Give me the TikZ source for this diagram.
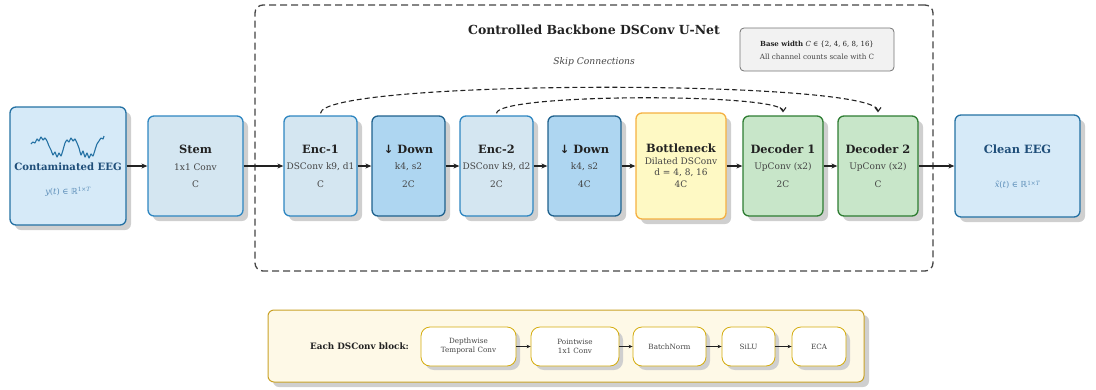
\documentclass[tikz,border=0pt]{standalone}
\usepackage{fontspec}
\setmainfont{DejaVu Serif}
\newfontfamily\symf{DejaVu Sans}
\usetikzlibrary{arrows.meta,shadows}
\definecolor{eegfill}{HTML}{D6EAF8}
\definecolor{eegdraw}{HTML}{2471A3}
\definecolor{eegtext}{HTML}{1F4E79}
\definecolor{eegmath}{HTML}{5B8DB8}
\definecolor{stemfill}{HTML}{D4E6F1}
\definecolor{stemdraw}{HTML}{2E86C1}
\definecolor{downfill}{HTML}{AED6F1}
\definecolor{downdraw}{HTML}{1F618D}
\definecolor{botfill}{HTML}{FEF9C4}
\definecolor{botdraw}{HTML}{F5B041}
\definecolor{decfill}{HTML}{C8E6C9}
\definecolor{decdraw}{HTML}{2E7D32}
\definecolor{legfill}{HTML}{FEF9E7}
\definecolor{legdraw}{HTML}{C9A227}
\definecolor{subdraw}{HTML}{D4AC0D}
\definecolor{txt}{HTML}{222222}
\definecolor{subtxt}{HTML}{444444}
\definecolor{shadowc}{HTML}{CFCFCF}
\begin{document}
\begin{tikzpicture}[x=1pt,y=-1pt,
  box/.style={draw, line width=1.3pt, rounded corners=6pt, inner sep=0pt,
    drop shadow={shadow xshift=5pt, shadow yshift=-5pt, fill=shadowc, opacity=1}},
  subbox/.style={draw=subdraw, fill=white, line width=0.8pt, rounded corners=9pt, inner sep=0pt,
    drop shadow={shadow xshift=4pt, shadow yshift=-4pt, fill=shadowc, opacity=1}},
  ttl/.style={font=\fontsize{11.4}{13}\selectfont\bfseries, text=txt, inner sep=0pt},
  sub/.style={font=\fontsize{9}{10}\selectfont, text=subtxt, inner sep=0pt},
  small/.style={font=\fontsize{7.2}{8}\selectfont, text=subtxt, inner sep=0pt},
  arr/.style={-{Stealth[length=6pt,width=5pt]}, line width=1.3pt, draw=txt},
  sarr/.style={-{Stealth[length=4pt,width=3.5pt]}, line width=0.8pt, draw=txt},
  skip/.style={-{Straight Barb[length=4pt,width=6pt]}, dash pattern=on 5pt off 3pt, line width=1.1pt, draw=txt}
]
\useasboundingbox (0,0) rectangle (1096,389);

% container
\node[draw=subtxt, dash pattern=on 7pt off 4pt, line width=1.3pt, rounded corners=8pt,
  minimum width=678pt, minimum height=266pt, inner sep=0pt] (cont) at (594,138) {};
\node[font=\fontsize{12.5}{14}\selectfont\bfseries, text=txt, inner sep=0pt] (title) at (594,30) {Controlled Backbone DSConv U-Net};
\node[font=\fontsize{9.2}{10}\selectfont\itshape, text=subtxt, inner sep=0pt] (skiplbl) at (594,62) {Skip Connections};

% base width box
\node[draw=black!55, fill=black!5, line width=0.8pt, rounded corners=4pt,
  minimum width=154pt, minimum height=43pt, inner sep=0pt] (base) at (817,49.5) {};
\node[font=\fontsize{7}{8}\selectfont, text=txt, inner sep=0pt] (base1) at (817,44) {\textbf{Base width} {\itshape C} ∈ \{2, 4, 6, 8, 16\}};
\node[small] (base2) at (817,57) {All channel counts scale with C};

% input
\node[box, draw=eegdraw, fill=eegfill, minimum width=116pt, minimum height=118pt] (inp) at (68,166) {};
\draw[eegdraw, line width=1.1pt, line join=round] plot[smooth, tension=0.3] coordinates {
 (31,144) (33,142) (35,143) (37,139) (39,141) (41,137) (43,140) (45,138) (47,141) (49,146) (51,150) (53,155) (55,152) (57,157) (59,153) (61,156) (63,150) (65,143) (67,140) (69,142) (71,138) (73,141) (75,139) (77,143) (79,148) (81,155) (83,151) (85,157) (87,153) (89,158) (91,154) (93,156) (95,150) (97,144) (99,141) (101,138) (103,139) (104,136)};
\node[font=\fontsize{10.1}{11}\selectfont\bfseries, text=eegtext, inner sep=0pt] (inpT) at (68,167) {Contaminated EEG};
\node[font=\fontsize{8.3}{9}\selectfont, text=eegmath, inner sep=0pt] (inpM) at (68,192) {{\itshape y}({\itshape t}) ∈ {\symf ℝ}\textsuperscript{1×{\itshape T}}};

% stem
\node[box, draw=stemdraw, fill=stemfill, minimum width=95pt, minimum height=100pt] (stem) at (195.5,166) {};
\node[ttl] (stemT) at (195.5,149) {Stem};
\node[sub] (stemS) at (195.5,167) {1x1 Conv};
\node[sub] (stemC) at (195.5,184) {C};

% enc1
\node[box, draw=stemdraw, fill=stemfill, minimum width=73pt, minimum height=100pt] (enc1) at (320.5,166) {};
\node[ttl] (enc1T) at (320.5,149) {Enc-1};
\node[sub] (enc1S) at (320.5,167) {DSConv k9, d1};
\node[sub] (enc1C) at (320.5,184) {C};

% down1
\node[box, draw=downdraw, fill=downfill, minimum width=73pt, minimum height=100pt] (down1) at (408.5,166) {};
\node[ttl] (down1T) at (408.5,149) {{\symf ↓} Down};
\node[sub] (down1S) at (408.5,167) {k4, s2};
\node[sub] (down1C) at (408.5,184) {2C};

% enc2
\node[box, draw=stemdraw, fill=stemfill, minimum width=73pt, minimum height=100pt] (enc2) at (496.5,166) {};
\node[ttl] (enc2T) at (496.5,149) {Enc-2};
\node[sub] (enc2S) at (496.5,167) {DSConv k9, d2};
\node[sub] (enc2C) at (496.5,184) {2C};

% down2
\node[box, draw=downdraw, fill=downfill, minimum width=73pt, minimum height=100pt] (down2) at (584.5,166) {};
\node[ttl] (down2T) at (584.5,149) {{\symf ↓} Down};
\node[sub] (down2S) at (584.5,167) {k4, s2};
\node[sub] (down2C) at (584.5,184) {4C};

% bottleneck
\node[box, draw=botdraw, fill=botfill, minimum width=90pt, minimum height=106pt] (bot) at (681,166) {};
\node[ttl] (botT) at (681,148) {Bottleneck};
\node[sub] (botS) at (681,161) {Dilated DSConv};
\node[sub] (botD) at (681,172.5) {d = 4, 8, 16};
\node[sub] (botC) at (681,184) {4C};

% decoders
\node[box, draw=decdraw, fill=decfill, minimum width=80pt, minimum height=100pt] (dec1) at (783,166) {};
\node[ttl] (dec1T) at (783,149) {Decoder 1};
\node[sub] (dec1S) at (783,167) {UpConv (x2)};
\node[sub] (dec1C) at (783,184) {2C};

\node[box, draw=decdraw, fill=decfill, minimum width=80pt, minimum height=100pt] (dec2) at (878,166) {};
\node[ttl] (dec2T) at (878,149) {Decoder 2};
\node[sub] (dec2S) at (878,167) {UpConv (x2)};
\node[sub] (dec2C) at (878,184) {C};

% output
\node[box, draw=eegdraw, fill=eegfill, minimum width=125pt, minimum height=102pt] (out) at (1017.5,166) {};
\node[font=\fontsize{11.4}{13}\selectfont\bfseries, text=eegtext, inner sep=0pt] (outT) at (1017.5,149) {Clean EEG};
\node[font=\fontsize{8.3}{9}\selectfont, text=eegmath, inner sep=0pt] (outM) at (1017.5,185) {{\itshape x̃}({\itshape t}) ∈ {\symf ℝ}\textsuperscript{1×{\itshape T}}};

% main arrows
\draw[arr] (inp.east) -- (stem.west);
\draw[arr] (stem.east) -- (enc1.west);
\draw[arr] (enc1.east) -- (down1.west);
\draw[arr] (down1.east) -- (enc2.west);
\draw[arr] (enc2.east) -- (down2.west);
\draw[arr] (down2.east) -- (bot.west);
\draw[arr] (bot.east) -- (dec1.west);
\draw[arr] (dec1.east) -- (dec2.west);
\draw[arr] (dec2.east) -- (out.west);

% skip connections
\coordinate (s1a) at ([yshift=2pt]enc1.north);
\coordinate (s1b) at ([yshift=3pt]dec2.north);
\coordinate (s2a) at ([yshift=2pt]enc2.north);
\coordinate (s2b) at ([yshift=3pt]dec1.north);
\draw[skip] (s1a) .. controls (321,79) and (878,79) .. (s1b);
\draw[skip] (s2a) .. controls (497,93) and (783,93) .. (s2b);

% legend
\node[draw=legdraw, fill=legfill, line width=1pt, rounded corners=6pt,
  minimum width=596pt, minimum height=72pt, inner sep=0pt,
  drop shadow={shadow xshift=5pt, shadow yshift=-5pt, fill=shadowc, opacity=1}] (leg) at (566,346) {};
\node[font=\fontsize{8.8}{10}\selectfont\bfseries, text=txt, inner sep=0pt] (legT) at (359.5,346) {Each DSConv block:};
\node[subbox, minimum width=95pt, minimum height=39pt] (dw) at (468.5,346.5) {};
\node[small, align=center, font=\fontsize{7.2}{9}\selectfont] (dwT) at (468.5,346.5) {Depthwise\\Temporal Conv};
\node[subbox, minimum width=88pt, minimum height=39pt] (pw) at (575,346.5) {};
\node[small, align=center, font=\fontsize{7.2}{9}\selectfont] (pwT) at (575,346.5) {Pointwise\\1x1 Conv};
\node[subbox, minimum width=73pt, minimum height=39pt] (bn) at (669.5,346.5) {};
\node[small] (bnT) at (669.5,346.5) {BatchNorm};
\node[subbox, minimum width=53pt, minimum height=39pt] (si) at (748.5,346.5) {};
\node[small] (siT) at (748.5,346.5) {SiLU};
\node[subbox, minimum width=54pt, minimum height=39pt] (eca) at (819,346.5) {};
\node[small] (ecaT) at (819,346.5) {ECA};
\draw[sarr] (dw.east) -- (pw.west);
\draw[sarr] (pw.east) -- (bn.west);
\draw[sarr] (bn.east) -- (si.west);
\draw[sarr] (si.east) -- (eca.west);
\end{tikzpicture}
\end{document}
